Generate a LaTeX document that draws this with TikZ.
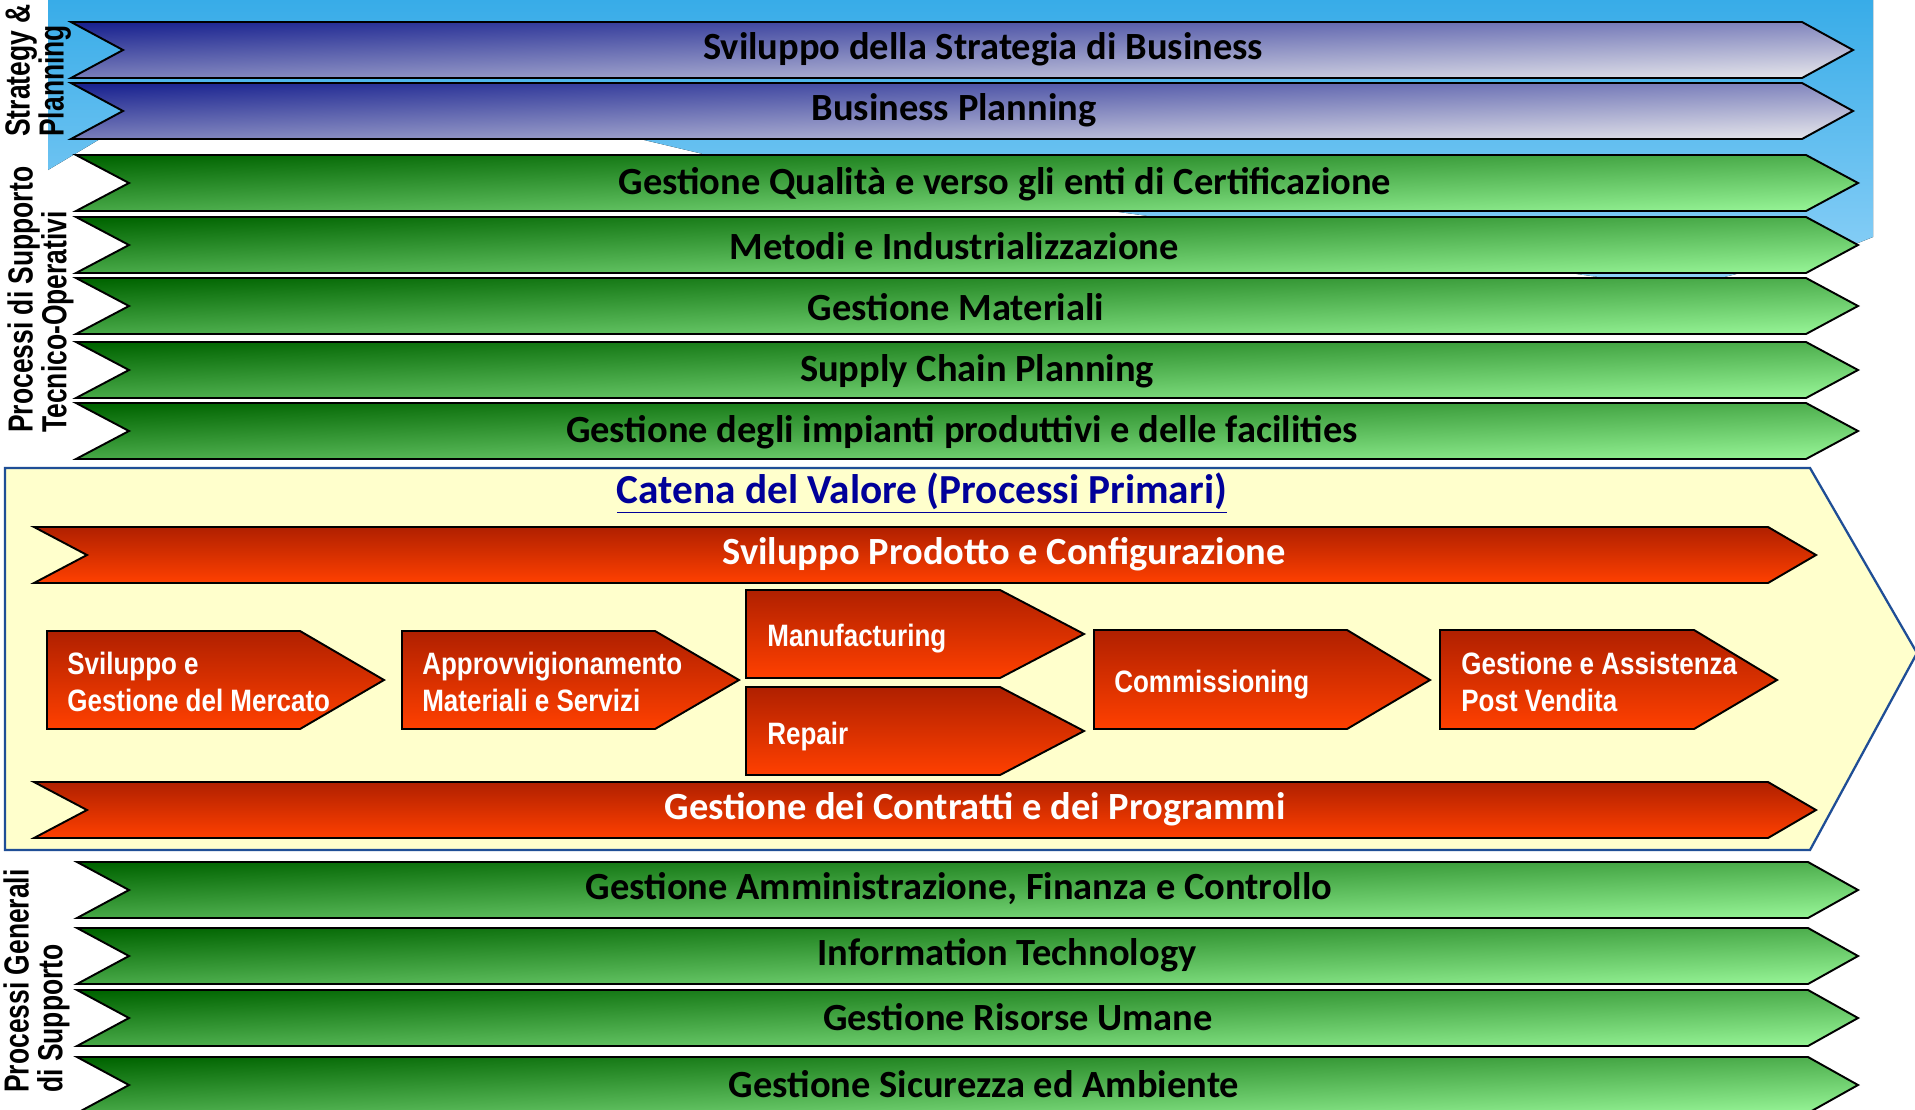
\documentclass[tikz,border=0pt]{standalone}
\usepackage{fontspec}
\setmainfont{Carlito}
\newfontfamily\narrowfont[FakeStretch=0.84]{Liberation Sans}
\newfontfamily\sidefont[FakeStretch=0.76]{Liberation Sans}

\definecolor{planTop}{HTML}{1A2390}
\definecolor{planBot}{HTML}{E4E4EA}
\definecolor{suppTop}{HTML}{006400}
\definecolor{suppBot}{HTML}{96F496}
\definecolor{primTop}{HTML}{B02000}
\definecolor{primBot}{HTML}{FF4000}
\definecolor{skyTop}{HTML}{38ACE8}
\definecolor{skyBot}{HTML}{90D2F8}
\definecolor{cream}{HTML}{FFFFCC}
\definecolor{frameblue}{HTML}{1F4E96}
\definecolor{titleblue}{HTML}{000099}

\begin{document}
\begin{tikzpicture}[x=0.02cm,y=-0.02cm,
plan/.style={draw=black,line width=1.1pt,top color=planTop,bottom color=planBot,shading angle=2},
supp/.style={draw=black,line width=1.1pt,top color=suppTop,bottom color=suppBot,shading angle=2},
prim/.style={draw=black,line width=1.1pt,top color=primTop,bottom color=primBot},
btext/.style={font=\fontsize{21.9}{26}\selectfont\bfseries,text=black,inner sep=0pt},
wtext/.style={btext,text=white},
ptext/.style={font=\narrowfont\fontsize{17.6}{21}\selectfont\bfseries,text=white,align=left,anchor=west,inner sep=0pt},
side/.style={font=\sidefont\fontsize{19.8}{19.3}\selectfont\bfseries,rotate=90,anchor=north west,align=left,inner sep=0pt}]
\useasboundingbox (0,0) rectangle (1915,1109);
\fill[white] (0,0) rectangle (1915,1109);

% sky behind the strategy rows
\fill[top color=skyTop,bottom color=skyBot] (48,0) -- (1873,0) -- (1873,237) -- (1853,245)
  -- (1680,288) -- (720,158) -- (640,139) -- (100,139) -- (48,170) -- cycle;

% strategy & planning
\foreach \y/\cx/\txt [count=\i] in {22/983/{Sviluppo della Strategia di Business},
    83/954/{Business Planning}} {
  \draw[plan] (71,\y) -- (1802,\y) -- (1853,\y+28) -- (1802,\y+56) -- (71,\y+56) -- (123,\y+28) -- cycle;
  \node[btext] (str\i) at (\cx,\y+27) {\txt};
}

% processi di supporto tecnico-operativi
\foreach \y/\cx/\txt [count=\i] in {155/1005/{Gestione Qualità e verso gli enti di Certificazione},
    217/954/{Metodi e Industrializzazione},
    278/956/{Gestione Materiali},
    342/977/{Supply Chain Planning},
    403/962/{Gestione degli impianti produttivi e delle facilities}} {
  \draw[supp] (76,\y) -- (1806,\y) -- (1858,\y+28) -- (1806,\y+56) -- (76,\y+56) -- (129,\y+28) -- cycle;
  \node[btext] (tec\i) at (\cx,\y+29) {\txt};
}

% catena del valore
\draw[frameblue,line width=1.3pt,fill=cream] (5,468) -- (1810,468) -- (1917,653) -- (1810,850) -- (5,850) -- cycle;
\node[font=\fontsize{23.5}{27}\selectfont\bfseries,text=titleblue,inner sep=0pt] (cat) at (922,493)
  {\underline{Catena del Valore (Processi Primari)}};

\foreach \y/\cx/\txt [count=\i] in {527/1004/{Sviluppo Prodotto e Configurazione},
    782/975/{Gestione dei Contratti e dei Programmi}} {
  \draw[prim] (34,\y) -- (1768,\y) -- (1816,\y+28) -- (1768,\y+56) -- (34,\y+56) -- (87,\y+28) -- cycle;
  \node[wtext] (pri\i) at (\cx,\y+27) {\txt};
}

\draw[prim] (47,631) -- (300,631) -- (384,680) -- (300,729) -- (47,729) -- cycle;
\node[ptext] (merc) at (67,682) {Sviluppo e\\Gestione del Mercato};
\draw[prim] (402,631) -- (655,631) -- (739,680) -- (655,729) -- (402,729) -- cycle;
\node[ptext] (appr) at (422,682) {Approvvigionamento\\Materiali e Servizi};
\draw[prim] (746,590) -- (1000,590) -- (1084,634) -- (1000,678) -- (746,678) -- cycle;
\node[ptext] (manu) at (767,639) {Manufacturing};
\draw[prim] (746,687) -- (1000,687) -- (1084,731) -- (1000,775) -- (746,775) -- cycle;
\node[ptext] (rep) at (767,736) {Repair};
\draw[prim] (1094,630) -- (1347,630) -- (1430,680) -- (1347,729) -- (1094,729) -- cycle;
\node[ptext] (comm) at (1114,685) {Commissioning};
\draw[prim] (1440,630) -- (1694,630) -- (1777,680) -- (1694,729) -- (1440,729) -- cycle;
\node[ptext] (post) at (1461,682) {Gestione e Assistenza\\Post Vendita};

% processi generali di supporto
\foreach \y/\cx/\txt [count=\i] in {862/959/{Gestione Amministrazione, Finanza e Controllo},
    928/1007/{Information Technology},
    990/1018/{Gestione Risorse Umane},
    1057/984/{Gestione Sicurezza ed Ambiente}} {
  \draw[supp] (77,\y) -- (1808,\y) -- (1858,\y+28) -- (1808,\y+56) -- (77,\y+56) -- (129,\y+28) -- cycle;
  \node[btext] (gen\i) at (\cx,\y+27) {\txt};
}

% side labels
\node[side] (sp) at (5,137) {Strategy \&\\Planning};
\node[side] (pst) at (7,433) {Processi di Supporto\\Tecnico-Operativi};
\node[side] (pgs) at (3,1093) {Processi Generali\\di Supporto};
\end{tikzpicture}
\end{document}
